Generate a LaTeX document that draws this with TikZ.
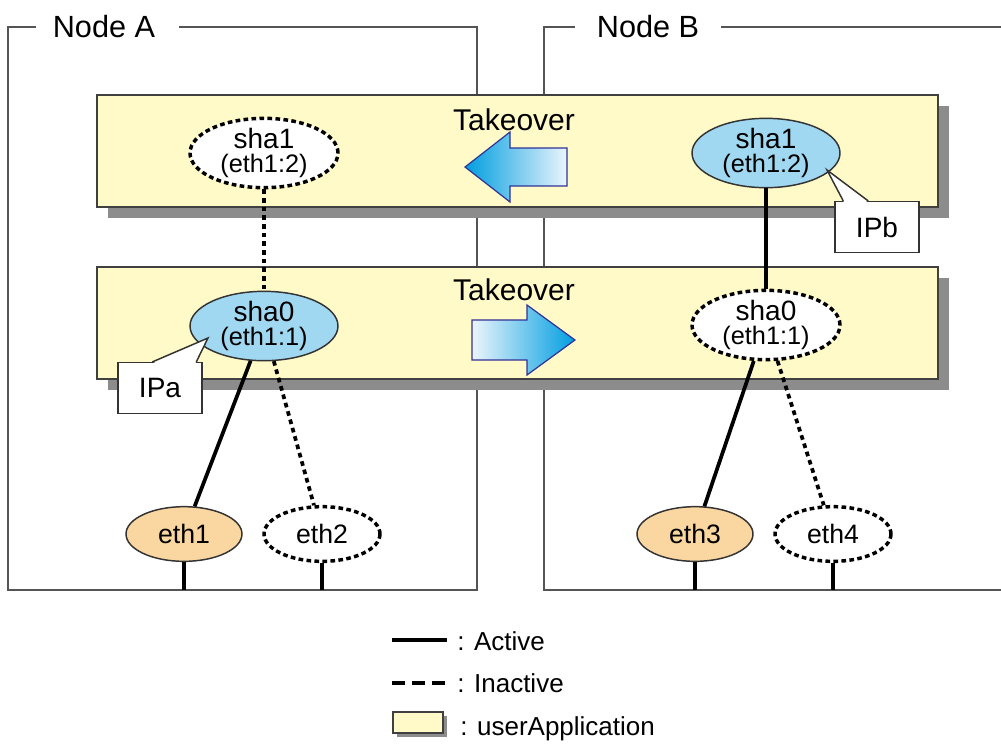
\documentclass[tikz,border=0pt]{standalone}
\usepackage{fontspec}
\setmainfont{Liberation Sans}
\usetikzlibrary{calc,shapes.geometric}
\definecolor{appyellow}{RGB}{255,250,200}
\definecolor{shablue}{RGB}{160,216,242}
\definecolor{ethorange}{RGB}{250,214,160}
\definecolor{framegray}{RGB}{85,85,85}
\definecolor{shadowgray}{RGB}{140,140,140}
\definecolor{arrowblue}{RGB}{0,158,224}
\definecolor{arrowpale}{RGB}{235,245,252}
\definecolor{arrowedge}{RGB}{50,50,150}
\begin{document}
\begin{tikzpicture}[x=0.75pt,y=-0.75pt,
  frame/.style={draw=framegray,line width=1.6pt},
  appbox/.style={draw=black!75,line width=1.2pt,fill=appyellow},
  shashape/.style={ellipse,minimum width=111pt,minimum height=52pt,inner sep=0pt,align=center,
    font=\fontsize{21pt}{17.5pt}\selectfont},
  shaact/.style={shashape,draw=black!80,line width=1.1pt,fill=shablue},
  shainact/.style={shashape,draw=black,line width=2.6pt,dash pattern=on 3.5pt off 2.5pt,fill=white},
  ethshape/.style={ellipse,minimum width=87pt,minimum height=41pt,inner sep=0pt,font=\fontsize{20pt}{24pt}\selectfont},
  ethact/.style={ethshape,draw=black!80,line width=1.1pt,fill=ethorange},
  ethinact/.style={ethshape,draw=black,line width=2.6pt,dash pattern=on 3.5pt off 2.5pt,fill=white},
  ipbox/.style={rectangle,draw=black!80,line width=1.1pt,fill=white,minimum width=63pt,minimum height=38pt,
    inner sep=0pt,font=\fontsize{21pt}{25pt}\selectfont},
  actline/.style={draw=black,line width=2.8pt},
  inactline/.style={draw=black,line width=2.8pt,dash pattern=on 3.5pt off 3pt},
  label/.style={font=\fontsize{23pt}{27pt}\selectfont,inner sep=0pt},
  takeover/.style={font=\fontsize{22.5pt}{27pt}\selectfont,inner sep=0pt},
  legtext/.style={font=\fontsize{19.5pt}{23pt}\selectfont,inner sep=0pt,anchor=base west},
  takearrow/.style={draw=arrowedge,line width=0.9pt}
]
\useasboundingbox (0,0) rectangle (1001,744);

% Node frames
\node[label] (nodeA) at (104,27) {Node A};
\node[label] (nodeB) at (648,27) {Node B};
\draw[frame] ($(nodeA.west)+(-17,0)$) -- (8,27) -- (8,590) -- (477,590) -- (477,27) -- ($(nodeA.east)+(24,0)$);
\draw[frame] ($(nodeB.west)+(-22,0)$) -- (544,27) -- (544,590) -- (1001,590);
\draw[frame] ($(nodeB.east)+(22,0)$) -- (1001,27);

% userApplication boxes
\fill[shadowgray] (108,106) rectangle (949,218);
\draw[appbox] (97,95) rectangle (938,207);
\fill[shadowgray] (108,278) rectangle (949,390);
\draw[appbox] (97,267) rectangle (938,379);

% Takeover labels and arrows
\node[takeover] (tk1) at (514,120) {Takeover};
\node[takeover] (tk2) at (514,290) {Takeover};
\path[takearrow,left color=arrowblue,middle color=arrowblue!75!white,right color=arrowpale]
  (465,167) -- (510,132) -- (510,148) -- (567,148) -- (567,186) -- (510,186) -- (510,202) -- cycle;
\path[takearrow,left color=arrowpale,middle color=arrowblue!75!white,right color=arrowblue]
  (472,320) -- (527,320) -- (527,305) -- (575,340) -- (527,375) -- (527,360) -- (472,360) -- cycle;

% sha interfaces
\node[shainact] (sha1L) at (264,153) {sha1\\{\fontsize{19pt}{17.5pt}\selectfont(eth1:2)}};
\node[shaact] (sha1R) at (766,153) {sha1\\{\fontsize{19pt}{17.5pt}\selectfont(eth1:2)}};
\node[shaact] (sha0L) at (264,326) {sha0\\{\fontsize{19pt}{17.5pt}\selectfont(eth1:1)}};
\node[shainact] (sha0R) at (766,325) {sha0\\{\fontsize{19pt}{17.5pt}\selectfont(eth1:1)}};

% eth interfaces
\node[ethact] (eth1) at (184,534) {eth1};
\node[ethinact] (eth2) at (322,534) {eth2};
\node[ethact] (eth3) at (695,534) {eth3};
\node[ethinact] (eth4) at (833,534) {eth4};

% connectors
\draw[inactline] (sha1L) -- (sha0L);
\draw[actline] (sha1R) -- (sha0R);
\draw[actline] (sha0L) -- (eth1);
\draw[inactline] (sha0L) -- (eth2);
\draw[actline] (sha0R) -- (eth3);
\draw[inactline] (sha0R) -- (eth4);
\coordinate (b1) at (184,590);
\coordinate (b2) at (322,590);
\coordinate (b3) at (695,590);
\coordinate (b4) at (833,590);
\draw[actline] (eth1) -- (b1);
\draw[actline] (eth2) -- (b2);
\draw[actline] (eth3) -- (b3);
\draw[actline] (eth4) -- (b4);

% IP callouts
\node[ipbox] (IPb) at (877,227) {IPb};
\coordinate (tipb) at (827,170);
\coordinate (pb1) at ($(IPb.north west)+(9,0)$);
\coordinate (pb2) at ($(IPb.north west)+(34,0)$);
\fill[white] ($(pb1)+(0.8,1.2)$) -- (tipb) -- ($(pb2)+(-0.8,1.2)$) -- cycle;
\draw[black!80,line width=1.1pt,line join=miter] (pb1) -- (tipb) -- (pb2);

\node[ipbox] (IPa) at (160,388) {IPa};
\coordinate (tipa) at (208,338);
\coordinate (pa1) at ($(IPa.north west)+(35,0)$);
\coordinate (pa2) at ($(IPa.north west)+(79,0)$);
\fill[white] ($(pa1)+(0.8,1.2)$) -- (tipa) -- ($(pa2)+(-0.8,1.2)$) -- cycle;
\draw[black!80,line width=1.1pt,line join=miter] (pa1) -- (tipa) -- (pa2);

% legend
\coordinate (la1) at (392,640);
\coordinate (la2) at (447,640);
\draw[actline] (la1) -- (la2);
\node[legtext] (lact) at (457,650) {: Active};
\coordinate (li1) at (392,683);
\coordinate (li2) at (445,683);
\draw[draw=black,line width=2.8pt,dash pattern=on 9.5pt off 5.5pt] (li1) -- (li2);
\node[legtext] (linact) at (457,692) {: Inactive};
\fill[shadowgray] (397,716) rectangle (447,737);
\draw[appbox,line width=1pt] (393,712) rectangle (443,733);
\node[legtext] (lapp) at (460,735) {: userApplication};
\end{tikzpicture}
\end{document}
